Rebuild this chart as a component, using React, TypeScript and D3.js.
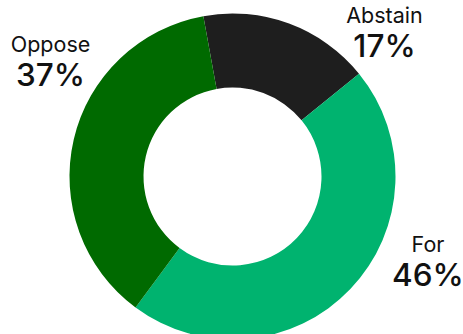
import React from "react";
import * as d3 from "d3";

const categories = ["Abstain", "For", "Oppose"];
const values = [17, 46, 37];
const colors = ["#1e1e1e", "#00b36f", "#006a00"];

const W = 463;
const H = 334;
const CX = 232.5;
const CY = 176.5;
const R_OUT = 163;
const R_IN = 89;
const START_DEG = -10.3;

// label anchor positions (layout, not data)
const labelPos: Record<string, [number, number]> = {
  Abstain: [384.5, 23.3],
  For: [428, 252.3],
  Oppose: [50.5, 51.7],
};

export default function App() {
  const start = (START_DEG * Math.PI) / 180;
  const pie = d3
    .pie<number>()
    .sort(null)
    .startAngle(start)
    .endAngle(start + 2 * Math.PI)
    .value((d) => d);
  const arcs = pie(values);
  const arc = d3.arc<d3.PieArcDatum<number>>().innerRadius(R_IN).outerRadius(R_OUT);
  const total = d3.sum(values);

  return (
    <svg
      width={W}
      height={H}
      style={{ position: "absolute", left: 0, top: 0, background: "#fff" }}
      fontFamily="Inter, 'Noto Sans', sans-serif"
    >
      <g transform={`translate(${CX},${CY})`}>
        {arcs.map((a, i) => (
          <path key={categories[i]} d={arc(a) || ""} fill={colors[i]} />
        ))}
      </g>
      {categories.map((c, i) => {
        const [x, y] = labelPos[c];
        return (
          <g key={c}>
            <text x={x} y={y} textAnchor="middle" fontSize={21.5} fill="#111">
              {c}
            </text>
            <text x={x} y={y + 34} textAnchor="middle" fontSize={31.5} fontWeight={500} fill="#111">
              {Math.round((values[i] / total) * 100)}%
            </text>
          </g>
        );
      })}
    </svg>
  );
}
